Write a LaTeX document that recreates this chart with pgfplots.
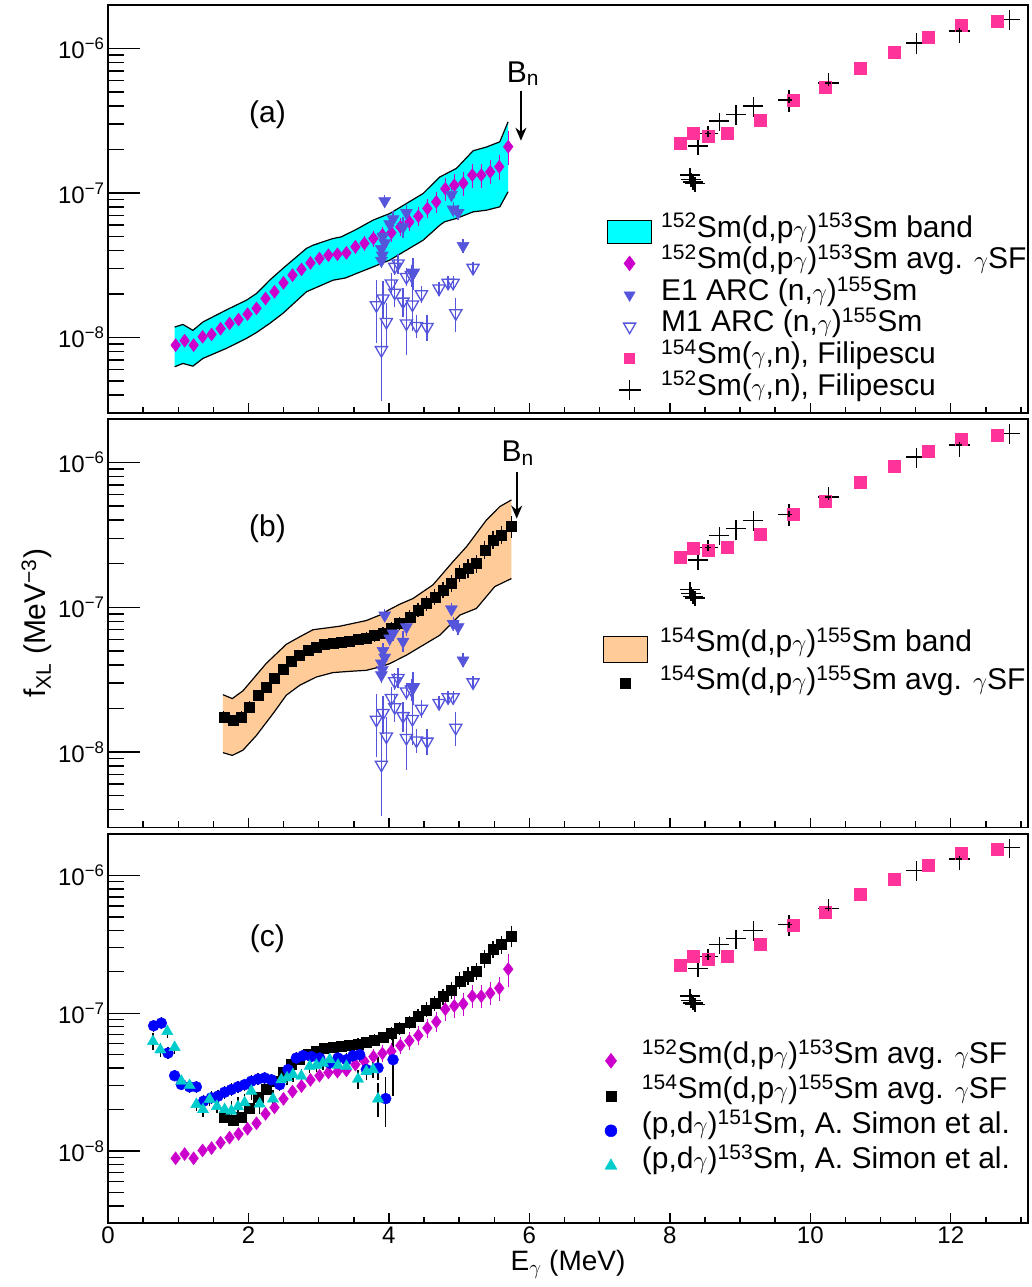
\documentclass[border=0pt]{standalone}
\usepackage{fontspec}
\setmainfont{Liberation Sans}
\setsansfont{Liberation Sans}
\usepackage{pgfplots}
\pgfplotsset{compat=1.18}
\usepackage{pgfplotstable}
\usetikzlibrary{arrows.meta}

\definecolor{mag}{RGB}{204,0,204}
\definecolor{arc}{RGB}{85,85,220}
\definecolor{pinkf}{RGB}{255,51,153}
\definecolor{peach}{RGB}{255,204,153}
\definecolor{cyanb}{RGB}{0,255,255}
\definecolor{simcyan}{RGB}{0,204,204}
\definecolor{simblue}{RGB}{0,0,255}
\newcommand{\fs}[1]{\fontsize{#1}{#1}\selectfont}
\newcommand{\g}{$\gamma$}

% 152Sm(d,p gamma)153Sm avg gSF
\pgfplotstableread{
x y e
0.963 8.85e-9 0.2e-9
1.091 9.50e-9 0.2e-9
1.219 8.85e-9 0.2e-9
1.347 1.01e-8 0.02e-8
1.475 1.05e-8 0.02e-8
1.603 1.15e-8 0.02e-8
1.731 1.25e-8 0.03e-8
1.859 1.33e-8 0.03e-8
1.987 1.45e-8 0.03e-8
2.115 1.59e-8 0.03e-8
2.243 1.86e-8 0.04e-8
2.371 2.07e-8 0.04e-8
2.499 2.39e-8 0.05e-8
2.627 2.70e-8 0.05e-8
2.755 2.96e-8 0.06e-8
2.883 3.28e-8 0.07e-8
3.011 3.52e-8 0.08e-8
3.139 3.71e-8 0.1e-8
3.267 3.77e-8 0.1e-8
3.395 3.85e-8 0.15e-8
3.523 4.24e-8 0.2e-8
3.651 4.48e-8 0.25e-8
3.779 4.84e-8 0.3e-8
3.907 5.11e-8 0.35e-8
4.035 5.30e-8 0.4e-8
4.163 5.83e-8 0.45e-8
4.291 6.31e-8 0.5e-8
4.419 6.90e-8 0.6e-8
4.547 7.81e-8 0.7e-8
4.675 8.68e-8 0.9e-8
4.803 1.07e-7 1.3e-8
4.931 1.13e-7 1.4e-8
5.059 1.17e-7 1.5e-8
5.187 1.33e-7 1.7e-8
5.315 1.33e-7 1.7e-8
5.443 1.40e-7 1.8e-8
5.571 1.52e-7 2.0e-8
5.699 2.09e-7 4.2e-8
}\diam

% 154Sm(d,p gamma)155Sm avg gSF
\pgfplotstableread{
x y e
1.650 1.75e-8 0.04e-8
1.780 1.66e-8 0.04e-8
1.900 1.75e-8 0.04e-8
2.017 2.05e-8 0.05e-8
2.136 2.47e-8 0.05e-8
2.254 2.82e-8 0.06e-8
2.373 3.22e-8 0.06e-8
2.492 3.72e-8 0.07e-8
2.610 4.27e-8 0.08e-8
2.729 4.67e-8 0.09e-8
2.848 5.06e-8 0.1e-8
2.966 5.33e-8 0.1e-8
3.085 5.56e-8 0.1e-8
3.204 5.68e-8 0.1e-8
3.322 5.77e-8 0.12e-8
3.441 5.86e-8 0.12e-8
3.560 6.00e-8 0.15e-8
3.679 6.15e-8 0.15e-8
3.797 6.38e-8 0.2e-8
3.916 6.67e-8 0.2e-8
4.035 7.14e-8 0.25e-8
4.153 7.74e-8 0.3e-8
4.296 8.59e-8 0.35e-8
4.415 9.57e-8 0.4e-8
4.534 1.06e-7 0.6e-8
4.652 1.18e-7 0.7e-8
4.771 1.32e-7 0.9e-8
4.890 1.46e-7 1.1e-8
5.008 1.72e-7 1.3e-8
5.127 1.86e-7 1.5e-8
5.246 2.01e-7 1.6e-8
5.364 2.49e-7 2.0e-8
5.483 2.92e-7 2.3e-8
5.602 3.16e-7 2.6e-8
5.744 3.61e-7 4.0e-8
}\squ

% band (a): upper edge (rows 0-23), then lower edge reversed (rows 24-47)
\pgfplotstableread{
x y
0.949 1.18e-8
1.067 1.23e-8
1.209 1.12e-8
1.352 1.28e-8
1.685 1.55e-8
1.970 1.81e-8
2.112 2.01e-8
2.302 2.49e-8
2.492 3.01e-8
2.825 4.13e-8
2.919 4.35e-8
3.204 4.84e-8
3.323 4.97e-8
3.537 5.60e-8
3.775 6.49e-8
4.012 7.21e-8
4.249 8.45e-8
4.487 9.92e-8
4.724 1.29e-7
4.962 1.48e-7
5.199 1.96e-7
5.389 2.08e-7
5.579 2.26e-7
5.697 3.11e-7
5.697 1.02e-7
5.579 8.02e-8
5.389 7.60e-8
5.199 7.40e-8
4.962 6.67e-8
4.790 6.31e-8
4.724 5.98e-8
4.487 4.71e-8
4.249 4.02e-8
4.012 3.43e-8
3.775 3.08e-8
3.537 2.77e-8
3.380 2.58e-8
3.204 2.49e-8
2.825 2.07e-8
2.492 1.47e-8
2.302 1.25e-8
2.112 1.08e-8
1.970 9.84e-9
1.685 8.40e-9
1.352 7.16e-9
1.209 6.33e-9
1.067 6.61e-9
0.949 6.27e-9
}\bandA

% band (b): upper edge (rows 0-19), then lower edge reversed (rows 20-39)
\pgfplotstableread{
x y
1.637 2.49e-8
1.770 2.34e-8
1.922 2.65e-8
2.112 3.40e-8
2.254 4.10e-8
2.539 5.55e-8
2.729 6.25e-8
2.919 7.00e-8
3.299 7.40e-8
3.679 8.10e-8
3.869 8.83e-8
4.011 9.66e-8
4.154 1.05e-7
4.343 1.15e-7
4.628 1.43e-7
4.913 2.07e-7
5.104 2.62e-7
5.389 4.01e-7
5.578 4.96e-7
5.745 5.52e-7
5.745 1.58e-7
5.507 1.39e-7
5.246 9.82e-8
5.009 8.83e-8
4.724 6.41e-8
4.486 5.47e-8
4.249 4.67e-8
4.011 4.08e-8
3.869 3.87e-8
3.679 3.67e-8
3.442 3.61e-8
3.204 3.54e-8
2.967 3.30e-8
2.729 2.89e-8
2.539 2.47e-8
2.349 1.84e-8
2.112 1.30e-8
1.922 1.03e-8
1.770 9.48e-9
1.637 9.90e-9
}\bandB

% E1 ARC
\pgfplotstableread{
x y e
3.893 3.40e-8 0.2e-8
3.906 3.70e-8 0.2e-8
3.893 4.10e-8 0.2e-8
3.940 4.50e-8 0.3e-8
3.916 5.00e-8 0.3e-8
3.940 8.80e-8 0.3e-8
4.011 6.10e-8 0.3e-8
4.059 6.60e-8 0.4e-8
4.201 5.80e-8 0.6e-8
4.249 7.30e-8 0.5e-8
4.335 2.80e-8 0.5e-8
4.890 9.70e-8 0.4e-8
4.914 7.70e-8 0.4e-8
4.985 7.30e-8 0.4e-8
5.056 4.30e-8 0.2e-8
}\eone

% M1 ARC
\pgfplotstableread{
x y e
3.822 1.67e-8 0.69e-8
3.893 8.17e-9 4.3e-9
3.916 1.86e-8 0.44e-8
3.964 1.28e-8 0.35e-8
4.035 2.36e-8 0.26e-8
4.083 2.04e-8 0.32e-8
4.083 3.08e-8 0.2e-8
4.130 3.25e-8 0.3e-8
4.201 1.77e-8 0.30e-8
4.249 2.62e-8 0.2e-8
4.249 1.25e-8 0.45e-8
4.320 2.70e-8 0.3e-8
4.344 2.80e-8 0.53e-8
4.335 1.69e-8 0.5e-8
4.392 1.20e-8 0.15e-8
4.463 1.99e-8 0.15e-8
4.543 1.18e-8 0.17e-8
4.714 2.18e-8 0.1e-8
4.842 2.39e-8 0.1e-8
4.914 2.39e-8 0.1e-8
4.952 1.47e-8 0.30e-8
5.198 3.03e-8 0.1e-8
}\mone

% 154Sm(g,n) Filipescu
\pgfplotstableread{
x y
8.142 2.22e-7
8.332 2.58e-7
8.546 2.47e-7
8.822 2.61e-7
9.282 3.19e-7
9.757 4.39e-7
10.208 5.37e-7
10.707 7.27e-7
11.196 9.46e-7
11.680 1.19e-6
12.155 1.46e-6
12.668 1.55e-6
}\filpink

% 152Sm(g,n) Filipescu
\pgfplotstableread{
x y ex ey
8.285 1.33e-7 0.14 0.17e-7
8.300 1.24e-7 0.14 0.14e-7
8.332 1.19e-7 0.14 0.14e-7
8.356 1.16e-7 0.14 0.14e-7
8.403 2.12e-7 0.14 0.30e-7
8.546 2.58e-7 0.14 0.35e-7
8.703 3.14e-7 0.14 0.45e-7
8.940 3.49e-7 0.14 0.55e-7
9.187 3.99e-7 0.14 0.65e-7
9.695 4.39e-7 0.15 0.75e-7
10.255 5.78e-7 0.15 0.95e-7
11.514 1.09e-6 0.15 0.18e-6
12.122 1.32e-6 0.15 0.22e-6
12.833 1.59e-6 0.15 0.25e-6
}\filcross

% (p,d g)151Sm Simon
\pgfplotstableread{
x y e
0.650 8.11e-8 0.3e-8
0.759 8.48e-8 0.3e-8
0.854 5.14e-8 0.2e-8
0.949 3.52e-8 0.1e-8
1.044 3.04e-8 0.1e-8
1.162 2.92e-8 0.1e-8
1.258 2.92e-8 0.1e-8
1.362 2.30e-8 0.1e-8
1.471 2.43e-8 0.1e-8
1.566 2.50e-8 0.1e-8
1.661 2.67e-8 0.1e-8
1.756 2.79e-8 0.1e-8
1.851 2.92e-8 0.1e-8
1.946 3.03e-8 0.1e-8
2.041 3.21e-8 0.1e-8
2.136 3.33e-8 0.1e-8
2.231 3.39e-8 0.1e-8
2.326 3.29e-8 0.1e-8
2.444 3.03e-8 0.1e-8
2.563 3.90e-8 0.1e-8
2.682 4.73e-8 0.15e-8
2.777 4.92e-8 0.15e-8
2.895 4.85e-8 0.15e-8
3.014 4.73e-8 0.15e-8
3.157 4.35e-8 0.15e-8
3.275 4.73e-8 0.2e-8
3.395 4.60e-8 0.2e-8
3.489 4.92e-8 0.2e-8
3.584 5.00e-8 0.3e-8
3.679 3.90e-8 0.3e-8
3.845 4.01e-8 0.5e-8
3.954 2.40e-8 0.8e-8
4.059 4.60e-8 1.9e-8
}\simA

% (p,d g)153Sm Simon
\pgfplotstableread{
x y e
0.640 6.24e-8 0.5e-8
0.745 5.43e-8 0.3e-8
0.844 7.38e-8 0.3e-8
0.949 5.65e-8 0.2e-8
1.044 3.21e-8 0.1e-8
1.162 2.99e-8 0.1e-8
1.258 2.18e-8 0.1e-8
1.352 2.00e-8 0.1e-8
1.447 2.37e-8 0.1e-8
1.551 2.11e-8 0.1e-8
1.661 2.00e-8 0.1e-8
1.756 1.95e-8 0.2e-8
1.851 2.10e-8 0.2e-8
1.946 2.24e-8 0.2e-8
2.041 2.72e-8 0.2e-8
2.160 2.20e-8 0.2e-8
2.349 2.39e-8 0.2e-8
2.468 3.29e-8 0.2e-8
2.550 3.40e-8 0.2e-8
2.634 3.59e-8 0.2e-8
2.753 3.50e-8 0.2e-8
2.872 4.12e-8 0.2e-8
2.967 4.20e-8 0.2e-8
3.061 4.35e-8 0.2e-8
3.157 4.60e-8 0.2e-8
3.275 4.20e-8 0.2e-8
3.395 4.12e-8 0.2e-8
3.560 3.33e-8 0.3e-8
3.679 3.78e-8 0.3e-8
3.774 3.90e-8 0.3e-8
3.845 2.39e-8 0.5e-8
}\simB

\begin{document}
\begin{tikzpicture}
\path[use as bounding box] (0,0) rectangle (1031pt,1287pt);

% ---------------- panel (a)
\begin{axis}[at={(108pt,874pt)}, anchor=south west, scale only axis, width=920pt, height=408pt,
    xmin=0, xmax=13.1, ymode=log, ymin=3e-9, ymax=2e-6,
    axis line style={line width=1.5pt}, tick style={black, line width=1.4pt},
    tick align=inside, xtick pos=bottom, ytick pos=left,
    xtick={0,2,4,6,8,10,12}, xticklabels={},
    minor xtick={0.5,1,1.5,2.5,3,3.5,4.5,5,5.5,6.5,7,7.5,8.5,9,9.5,10.5,11,11.5,12.5,13},
    ytick={1e-8,1e-7,1e-6},
    minor ytick={3e-9,4e-9,5e-9,6e-9,7e-9,8e-9,9e-9,2e-8,3e-8,4e-8,5e-8,6e-8,7e-8,8e-8,9e-8,2e-7,3e-7,4e-7,5e-7,6e-7,7e-7,8e-7,9e-7},
    yticklabels={10\textsuperscript{−8},10\textsuperscript{−7},10\textsuperscript{−6}},
    yticklabel style={font=\fs{24}},
    major tick length=10pt, minor tick length=6.5pt,
    ytick style={/pgfplots/major tick length=32pt,/pgfplots/minor tick length=16pt},
    legend cell align=left,
    legend style={draw=none, fill=none, inner sep=0pt, outer sep=0pt, row sep=0pt, font=\fs{30},
      at={(rel axis cs:0.5424,0.4828)}, anchor=north west, column sep=9pt,
      nodes={inner sep=0pt, text height=21pt, text depth=10.6pt}}]
\addplot[fill=cyanb, draw=none, forget plot] table[x=x,y=y] {\bandA};
\addplot[black, line width=1.2pt, forget plot] table[x=x,y=y, skip coords between index={24}{48}] {\bandA};
\addplot[black, line width=1.2pt, forget plot] table[x=x,y=y, skip coords between index={0}{24}] {\bandA};
\addplot[forget plot, only marks, mark=diamond*, mark size=6.5pt, color=mag,
  error bars/.cd, y dir=both, y explicit, error bar style={line width=1.2pt, mag}, error mark options={mag, mark size=4pt, line width=1.2pt}]
  table[x=x,y=y,y error=e] {\diam};
\addplot[forget plot, only marks, mark=triangle*, mark size=7pt, mark options={rotate=180}, color=arc,
  error bars/.cd, y dir=both, y explicit, error bar style={line width=1.2pt, arc}, error mark options={arc, mark size=4pt, line width=1.2pt}]
  table[x=x,y=y,y error=e] {\eone};
\addplot[forget plot, only marks, mark=triangle, mark size=7pt, mark options={rotate=180, line width=1.3pt}, color=arc,
  error bars/.cd, y dir=both, y explicit, error bar style={line width=1.2pt, arc}, error mark options={arc, mark size=4pt, line width=1.2pt}]
  table[x=x,y=y,y error=e] {\mone};
\addplot[forget plot, only marks, mark=square*, mark size=6pt, color=pinkf] table[x=x,y=y] {\filpink};
\addplot[forget plot, only marks, mark=+, mark size=3pt, black, line width=1.4pt,
  error bars/.cd, x dir=both, x explicit, y dir=both, y explicit, error mark=none, error bar style={line width=1.4pt}]
  table[x=x,y=y,x error=ex,y error=ey] {\filcross};
\node[font=\fs{30}] at (axis cs:2.27,3.5e-7) {(a)};
\node[font=\fs{30}] at (axis cs:5.91,6.7e-7) {B\textsubscript{n}};
\draw[-{Stealth[length=13pt,width=11pt]}, line width=2pt] (axis cs:5.88,5.1e-7) -- (axis cs:5.88,2.3e-7);
\addlegendimage{legend image code/.code={\draw[fill=cyanb, draw=black, line width=1.2pt] (0pt,-11.5pt) rectangle (44pt,11.5pt);}}
\addlegendentry{\textsuperscript{152}Sm(d,p\g)\textsuperscript{153}Sm band}
\addlegendimage{legend image code/.code={\path[draw=none,fill=none] (0pt,-11pt) rectangle (44pt,11pt); \draw[mag, mark=diamond*, mark size=7.5pt] plot coordinates {(22pt,0pt)};}}
\addlegendentry{\textsuperscript{152}Sm(d,p\g)\textsuperscript{153}Sm avg. \g SF}
\addlegendimage{legend image code/.code={\path[draw=none,fill=none] (0pt,-11pt) rectangle (44pt,11pt); \draw[arc, mark=triangle*, mark size=6.5pt, mark options={rotate=180}] plot coordinates {(22pt,0pt)};}}
\addlegendentry{E1 ARC (n,\g)\textsuperscript{155}Sm}
\addlegendimage{legend image code/.code={\path[draw=none,fill=none] (0pt,-11pt) rectangle (44pt,11pt); \draw[arc, mark=triangle, mark size=7pt, mark options={rotate=180, line width=1.3pt}] plot coordinates {(22pt,0pt)};}}
\addlegendentry{M1 ARC (n,\g)\textsuperscript{155}Sm}
\addlegendimage{legend image code/.code={\path[draw=none,fill=none] (0pt,-11pt) rectangle (44pt,11pt); \draw[pinkf, mark=square*, mark size=5pt] plot coordinates {(22pt,0pt)};}}
\addlegendentry{\textsuperscript{154}Sm(\g,n), Filipescu}
\addlegendimage{legend image code/.code={\path[draw=none,fill=none] (0pt,-11pt) rectangle (44pt,11pt); \draw[black, line width=1.5pt] (11pt,0pt)--(33pt,0pt) (22pt,-10pt)--(22pt,10pt);}}
\addlegendentry{\textsuperscript{152}Sm(\g,n), Filipescu}
\end{axis}

% ---------------- panel (b)
\begin{axis}[at={(108pt,459.3pt)}, anchor=south west, scale only axis, width=920pt, height=408.7pt,
    xmin=0, xmax=13.1, ymode=log, ymin=3e-9, ymax=2e-6,
    axis line style={line width=1.5pt}, tick style={black, line width=1.4pt},
    tick align=inside, xtick pos=bottom, ytick pos=left,
    xtick={0,2,4,6,8,10,12}, xticklabels={},
    minor xtick={0.5,1,1.5,2.5,3,3.5,4.5,5,5.5,6.5,7,7.5,8.5,9,9.5,10.5,11,11.5,12.5,13},
    ytick={1e-8,1e-7,1e-6},
    minor ytick={3e-9,4e-9,5e-9,6e-9,7e-9,8e-9,9e-9,2e-8,3e-8,4e-8,5e-8,6e-8,7e-8,8e-8,9e-8,2e-7,3e-7,4e-7,5e-7,6e-7,7e-7,8e-7,9e-7},
    yticklabels={10\textsuperscript{−8},10\textsuperscript{−7},10\textsuperscript{−6}},
    yticklabel style={font=\fs{24}},
    major tick length=10pt, minor tick length=6.5pt,
    ytick style={/pgfplots/major tick length=32pt,/pgfplots/minor tick length=16pt},
    ylabel={f\textsubscript{XL} (MeV\textsuperscript{−3})}, ylabel style={font=\fs{30}},
    legend cell align=left,
    legend style={draw=none, fill=none, inner sep=0pt, outer sep=0pt, row sep=0pt, font=\fs{30},
      at={(rel axis cs:0.538,0.482)}, anchor=north west, column sep=12pt,
      nodes={inner sep=0pt, text height=21pt, text depth=17pt}}]
\addplot[fill=peach, draw=none, forget plot] table[x=x,y=y] {\bandB};
\addplot[black, line width=1.2pt, forget plot] table[x=x,y=y, skip coords between index={20}{40}] {\bandB};
\addplot[black, line width=1.2pt, forget plot] table[x=x,y=y, skip coords between index={0}{20}] {\bandB};
\addplot[forget plot, only marks, mark=square*, mark size=5pt, color=black,
  error bars/.cd, y dir=both, y explicit, error bar style={line width=1.2pt, black}, error mark options={black, mark size=4pt, line width=1.2pt}]
  table[x=x,y=y,y error=e] {\squ};
\addplot[forget plot, only marks, mark=triangle*, mark size=7pt, mark options={rotate=180}, color=arc,
  error bars/.cd, y dir=both, y explicit, error bar style={line width=1.2pt, arc}, error mark options={arc, mark size=4pt, line width=1.2pt}]
  table[x=x,y=y,y error=e] {\eone};
\addplot[forget plot, only marks, mark=triangle, mark size=7pt, mark options={rotate=180, line width=1.3pt}, color=arc,
  error bars/.cd, y dir=both, y explicit, error bar style={line width=1.2pt, arc}, error mark options={arc, mark size=4pt, line width=1.2pt}]
  table[x=x,y=y,y error=e] {\mone};
\addplot[forget plot, only marks, mark=square*, mark size=6pt, color=pinkf] table[x=x,y=y] {\filpink};
\addplot[forget plot, only marks, mark=+, mark size=3pt, black, line width=1.4pt,
  error bars/.cd, x dir=both, x explicit, y dir=both, y explicit, error mark=none, error bar style={line width=1.4pt}]
  table[x=x,y=y,x error=ex,y error=ey] {\filcross};
\node[font=\fs{30}] at (axis cs:2.27,3.5e-7) {(b)};
\node[font=\fs{30}] at (axis cs:5.835,1.16e-6) {B\textsubscript{n}};
\draw[-{Stealth[length=13pt,width=11pt]}, line width=2pt] (axis cs:5.82,8.6e-7) -- (axis cs:5.82,4.1e-7);
\addlegendimage{legend image code/.code={\draw[fill=peach, draw=black, line width=1.2pt] (0pt,-13pt) rectangle (44pt,13pt);}}
\addlegendentry{\textsuperscript{154}Sm(d,p\g)\textsuperscript{155}Sm band}
\addlegendimage{legend image code/.code={\path[draw=none,fill=none] (0pt,-11pt) rectangle (44pt,11pt); \draw[black, mark=square*, mark size=5pt] plot coordinates {(22pt,5pt)};}}
\addlegendentry{\textsuperscript{154}Sm(d,p\g)\textsuperscript{155}Sm avg. \g SF}
\end{axis}

% ---------------- panel (c)
\begin{axis}[at={(108pt,64pt)}, anchor=south west, scale only axis, width=920pt, height=389pt,
    xmin=0, xmax=13.1, ymode=log, ymin=3e-9, ymax=2e-6,
    axis line style={line width=1.5pt}, tick style={black, line width=1.4pt},
    tick align=inside, xtick pos=bottom, ytick pos=left,
    xtick={0,2,4,6,8,10,12}, xticklabels={0,2,4,6,8,10,12},
    xticklabel style={font=\fs{24}},
    minor xtick={0.5,1,1.5,2.5,3,3.5,4.5,5,5.5,6.5,7,7.5,8.5,9,9.5,10.5,11,11.5,12.5,13},
    ytick={1e-8,1e-7,1e-6},
    minor ytick={3e-9,4e-9,5e-9,6e-9,7e-9,8e-9,9e-9,2e-8,3e-8,4e-8,5e-8,6e-8,7e-8,8e-8,9e-8,2e-7,3e-7,4e-7,5e-7,6e-7,7e-7,8e-7,9e-7},
    yticklabels={10\textsuperscript{−8},10\textsuperscript{−7},10\textsuperscript{−6}},
    yticklabel style={font=\fs{24}},
    major tick length=10pt, minor tick length=6.5pt,
    ytick style={/pgfplots/major tick length=32pt,/pgfplots/minor tick length=16pt},
    xlabel={E\textsubscript{\g} (MeV)}, xlabel style={font=\fs{28}},
    legend cell align=left,
    legend style={draw=none, fill=none, inner sep=0pt, outer sep=0pt, row sep=0pt, font=\fs{30},
      at={(rel axis cs:0.5228,0.462)}, anchor=north west, column sep=9pt,
      nodes={inner sep=0pt, text height=20pt, text depth=15pt}}]
\addplot[forget plot, only marks, mark=square*, mark size=5pt, color=black,
  error bars/.cd, y dir=both, y explicit, error bar style={line width=1.2pt, black}, error mark options={black, mark size=4pt, line width=1.2pt}]
  table[x=x,y=y,y error=e] {\squ};
\addplot[forget plot, only marks, mark=diamond*, mark size=6.5pt, color=mag,
  error bars/.cd, y dir=both, y explicit, error bar style={line width=1.2pt, mag}, error mark options={mag, mark size=4pt, line width=1.2pt}]
  table[x=x,y=y,y error=e] {\diam};
\addplot[forget plot, only marks, mark=*, mark size=5.5pt, color=simblue,
  error bars/.cd, y dir=both, y explicit, error bar style={line width=1.2pt, black}, error mark options={black, mark size=4pt, line width=1.2pt}]
  table[x=x,y=y,y error=e] {\simA};
\addplot[forget plot, only marks, mark=triangle*, mark size=6.5pt, color=simcyan,
  error bars/.cd, y dir=both, y explicit, error bar style={line width=1.2pt, black}, error mark options={black, mark size=4pt, line width=1.2pt}]
  table[x=x,y=y,y error=e] {\simB};
\addplot[forget plot, only marks, mark=square*, mark size=6pt, color=pinkf] table[x=x,y=y] {\filpink};
\addplot[forget plot, only marks, mark=+, mark size=3pt, black, line width=1.4pt,
  error bars/.cd, x dir=both, x explicit, y dir=both, y explicit, error mark=none, error bar style={line width=1.4pt}]
  table[x=x,y=y,x error=ex,y error=ey] {\filcross};
\node[font=\fs{30}] at (axis cs:2.27,3.5e-7) {(c)};
\addlegendimage{legend image code/.code={\path[draw=none,fill=none] (0pt,-11pt) rectangle (44pt,11pt); \draw[mag, mark=diamond*, mark size=7.5pt] plot coordinates {(22pt,0pt)};}}
\addlegendentry{\textsuperscript{152}Sm(d,p\g)\textsuperscript{153}Sm avg. \g SF}
\addlegendimage{legend image code/.code={\path[draw=none,fill=none] (0pt,-11pt) rectangle (44pt,11pt); \draw[black, mark=square*, mark size=5pt] plot coordinates {(22pt,0pt)};}}
\addlegendentry{\textsuperscript{154}Sm(d,p\g)\textsuperscript{155}Sm avg. \g SF}
\addlegendimage{legend image code/.code={\path[draw=none,fill=none] (0pt,-11pt) rectangle (44pt,11pt); \draw[simblue, mark=*, mark size=6pt] plot coordinates {(22pt,0pt)};}}
\addlegendentry{(p,d\g)\textsuperscript{151}Sm, A. Simon et al.}
\addlegendimage{legend image code/.code={\path[draw=none,fill=none] (0pt,-11pt) rectangle (44pt,11pt); \draw[simcyan, mark=triangle*, mark size=7pt] plot coordinates {(22pt,0pt)};}}
\addlegendentry{(p,d\g)\textsuperscript{153}Sm, A. Simon et al.}
\end{axis}
\end{tikzpicture}
\end{document}
